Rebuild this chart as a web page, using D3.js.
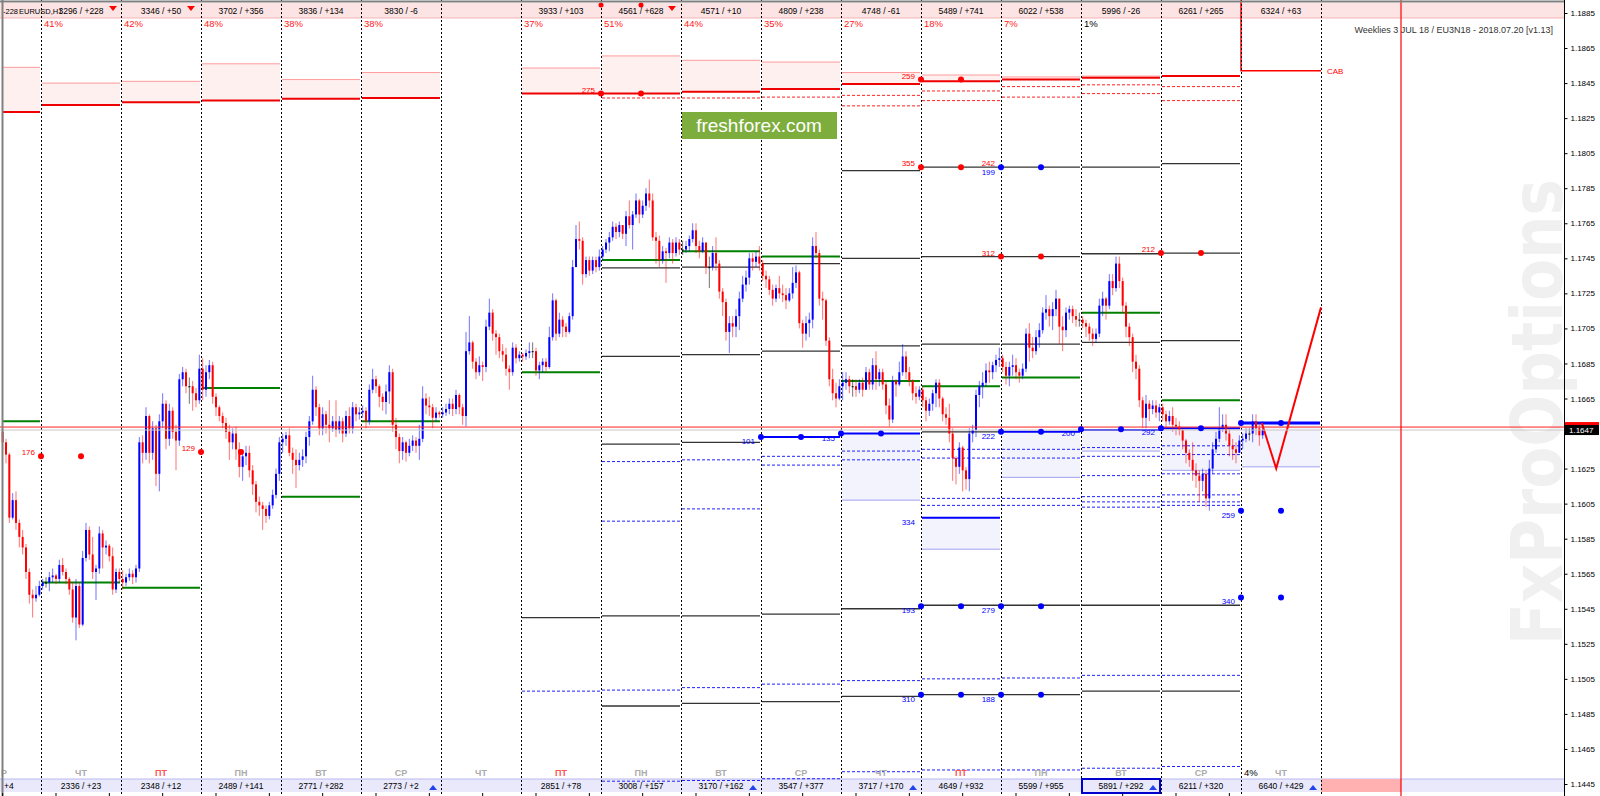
<!DOCTYPE html>
<head>
<meta charset="utf-8">
<script src="https://d3js.org/d3.v7.min.js"></script>
<style>
  body { margin:0; background:#fff; }
  svg { display:block; font-family:"Liberation Sans", Arial, sans-serif; }
</style>
</head>
<body>
<div id="chart"></div>
<script>
// prices are in 1/10000 above 1.0000 (1643 -> 1.1643)
// day -1 is the half day at the left edge, 0..15 are the full days
var dayNames   = ["ЧТ","ПТ","ПН","ВТ","СР","ЧТ","ПТ","ПН","ВТ","СР","ЧТ","ПТ","ПН","ВТ","СР","ЧТ"];
var topStats   = ["3296 / +228","3346 / +50","3702 / +356","3836 / +134","3830 / -6","","3933 / +103","4561 / +628","4571 / +10","4809 / +238","4748 / -61","5489 / +741","6022 / +538","5996 / -26","6261 / +265","6324 / +63"];
var topPct     = ["41%","42%","48%","38%","38%","","37%","51%","44%","35%","27%","18%","7%","1%","",""];
var bottomStats= ["2336 / +23","2348 / +12","2489 / +141","2771 / +282","2773 / +2","","2851 / +78","3008 / +157","3170 / +162","3547 / +377","3717 / +170","4649 / +932","5599 / +955","5891 / +292","6211 / +320","6640 / +429"];
var bottomPct  = ["","","","","","","","","","","","","","","","4%"];
var axisTicks  = d3.range(1445, 1886, 20);

var firstOpen = 1646;
var closes = [
  1640,1633,1597,1607,1594,1586,1580,1566,1553,1551,1553,1558,
  1560,1560,1563,1564,1562,1570,1566,1562,1556,1540,1558,1536,1574,1590,1576,1566,1568,1588,1580,1581,1575,1556,1566,1562,
  1560,1563,1565,1563,1568,1640,1634,1655,1634,1648,1622,1652,1662,1642,1658,1646,1641,1676,1680,1672,1672,1668,1664,1682,
  1670,1680,1684,1666,1660,1655,1651,1646,1640,1645,1636,1626,1632,1634,1624,1616,1606,1604,1602,1598,1604,1610,1622,1640,
  1642,1644,1634,1630,1627,1630,1632,1643,1652,1670,1660,1648,1656,1650,1648,1652,1647,1652,1645,1655,1648,1660,1656,1657,
  1658,1652,1670,1676,1672,1666,1663,1669,1680,1650,1643,1635,1640,1634,1638,1641,1638,1642,1665,1661,1660,1654,1657,1656,
  1657,1659,1662,1659,1667,1660,1655,1692,1697,1686,1680,1684,1683,1706,1714,1702,1700,1692,1690,1682,1680,1694,1688,1690,
  1689,1691,1692,1692,1681,1684,1686,1683,1700,1721,1702,1710,1706,1703,1712,1740,1756,1755,1736,1744,1738,1744,1740,1746,
  1750,1754,1757,1763,1760,1764,1759,1769,1764,1770,1778,1770,1775,1782,1778,1757,1755,1744,1749,1748,1754,1748,1754,1750,
  1750,1752,1756,1761,1752,1749,1754,1740,1740,1748,1742,1726,1720,1703,1708,1706,1712,1722,1730,1734,1745,1743,1746,1742,
  1735,1733,1727,1722,1728,1725,1724,1721,1725,1731,1737,1708,1702,1708,1710,1752,1748,1722,1721,1698,1676,1668,1665,1672,
  1674,1676,1672,1672,1670,1674,1670,1680,1673,1684,1676,1680,1673,1661,1653,1675,1673,1680,1689,1680,1675,1668,1666,1670,
  1664,1658,1662,1668,1674,1665,1656,1654,1645,1631,1626,1637,1624,1619,1645,1647,1667,1672,1674,1681,1680,1684,1687,1688,
  1683,1678,1683,1684,1680,1678,1682,1702,1694,1692,1700,1704,1714,1716,1712,1716,1722,1706,1704,1714,1716,1712,1710,1710,
  1708,1706,1702,1699,1702,1718,1722,1718,1732,1728,1742,1732,1718,1706,1700,1686,1682,1664,1654,1662,1659,1661,1657,1660,
  1656,1652,1655,1650,1649,1647,1641,1634,1630,1624,1621,1618,1622,1608,1625,1636,1642,1648,1650,1645,1638,1636,1634,1641,
  1642,1645,1645,1652,1648,1644,1647
];
var highs = [
  1648,1642,1634,1611,1612,1596,1590,1582,1568,1556,1558,1561,
  1562,1563,1566,1568,1565,1573,1574,1568,1563,1560,1562,1560,1578,1594,1592,1586,1570,1592,1590,1584,1582,1580,1568,1568,
  1567,1565,1568,1567,1570,1643,1644,1660,1656,1652,1650,1656,1668,1664,1662,1660,1650,1679,1683,1682,1677,1675,1671,1690,
  1688,1684,1687,1686,1668,1661,1657,1654,1650,1648,1649,1640,1636,1638,1638,1627,1618,1609,1606,1604,1606,1613,1625,1643,
  1645,1646,1648,1637,1636,1634,1636,1646,1655,1678,1672,1662,1660,1658,1664,1655,1664,1655,1654,1658,1660,1663,1662,1660,
  1661,1660,1673,1682,1678,1673,1668,1673,1684,1682,1654,1645,1643,1641,1642,1644,1643,1650,1672,1668,1666,1662,1660,1658,
  1660,1662,1665,1665,1670,1668,1662,1703,1712,1698,1688,1689,1686,1710,1722,1716,1704,1702,1696,1694,1684,1697,1696,1692,
  1691,1693,1697,1697,1694,1686,1688,1688,1706,1725,1722,1714,1712,1708,1714,1744,1764,1766,1757,1746,1746,1746,1746,1750,
  1752,1756,1760,1766,1765,1766,1764,1772,1778,1772,1782,1779,1778,1785,1790,1782,1760,1758,1752,1751,1757,1756,1757,1756,
  1755,1755,1758,1765,1765,1755,1757,1754,1746,1752,1757,1744,1728,1722,1712,1712,1716,1726,1735,1738,1748,1748,1749,1752,
  1744,1738,1735,1730,1730,1735,1730,1728,1728,1740,1741,1738,1710,1712,1714,1757,1760,1750,1726,1722,1700,1682,1674,1676,
  1680,1680,1678,1676,1676,1676,1677,1683,1682,1688,1692,1682,1682,1675,1665,1678,1676,1686,1696,1692,1683,1676,1672,1672,
  1672,1666,1665,1670,1676,1676,1666,1660,1662,1648,1632,1640,1638,1626,1648,1650,1670,1675,1680,1685,1686,1686,1690,1694,
  1690,1686,1686,1690,1688,1682,1685,1705,1708,1700,1704,1708,1717,1724,1718,1720,1727,1722,1712,1717,1718,1718,1716,1714,
  1712,1710,1708,1705,1705,1722,1726,1723,1736,1736,1746,1746,1734,1720,1708,1702,1690,1684,1666,1667,1664,1664,1664,1662,
  1662,1658,1658,1660,1654,1652,1648,1642,1636,1640,1628,1624,1625,1624,1630,1640,1646,1660,1656,1656,1648,1642,1640,1644,
  1645,1648,1648,1656,1656,1650,1652
];
var lows = [
  1636,1628,1594,1596,1590,1580,1576,1562,1548,1540,1549,1552,
  1556,1557,1555,1560,1559,1560,1564,1559,1553,1537,1527,1534,1535,1572,1573,1562,1550,1565,1568,1576,1572,1553,1554,1560,
  1556,1558,1561,1559,1560,1566,1628,1630,1628,1630,1615,1612,1648,1636,1638,1642,1624,1638,1672,1668,1662,1658,1660,1662,
  1664,1666,1676,1662,1655,1652,1648,1642,1630,1636,1630,1620,1618,1627,1620,1610,1600,1598,1590,1594,1596,1602,1608,1618,
  1634,1638,1632,1622,1614,1624,1626,1628,1638,1650,1655,1644,1644,1645,1640,1646,1643,1645,1640,1643,1645,1645,1652,1653,
  1654,1648,1650,1668,1668,1660,1658,1656,1662,1646,1636,1628,1630,1629,1632,1635,1634,1630,1640,1656,1655,1648,1652,1654,
  1654,1655,1656,1655,1656,1656,1650,1649,1690,1682,1676,1678,1675,1680,1704,1698,1690,1688,1686,1678,1670,1678,1685,1686,
  1686,1687,1688,1688,1678,1676,1680,1680,1682,1698,1698,1700,1700,1700,1702,1710,1740,1750,1730,1734,1735,1736,1737,1738,
  1744,1748,1749,1755,1756,1757,1756,1752,1762,1750,1768,1765,1768,1772,1774,1755,1742,1740,1742,1731,1745,1742,1746,1747,
  1747,1748,1749,1754,1748,1745,1748,1736,1728,1738,1738,1722,1712,1698,1691,1700,1700,1704,1720,1726,1730,1738,1740,1738,
  1732,1728,1724,1718,1720,1722,1720,1716,1720,1722,1728,1705,1694,1698,1700,1705,1745,1718,1710,1695,1672,1664,1660,1664,
  1664,1670,1668,1666,1666,1668,1666,1670,1670,1670,1670,1672,1670,1656,1649,1651,1666,1672,1678,1676,1672,1664,1662,1664,
  1660,1652,1655,1658,1660,1660,1652,1650,1640,1618,1616,1622,1612,1613,1612,1640,1643,1660,1665,1672,1674,1676,1680,1683,
  1680,1673,1672,1678,1676,1674,1676,1680,1686,1688,1690,1694,1702,1710,1706,1704,1712,1696,1692,1700,1710,1708,1706,1706,
  1705,1700,1698,1695,1697,1700,1712,1710,1716,1724,1726,1728,1714,1700,1695,1680,1676,1660,1648,1648,1652,1656,1654,1652,
  1652,1648,1650,1646,1644,1644,1636,1628,1626,1618,1614,1606,1612,1603,1601,1622,1634,1640,1646,1641,1632,1630,1628,1634,
  1636,1640,1641,1640,1644,1638,1642
];
var askPrice = 1648.7, bidPrice = 1647;

// levels: [day, price]
var greenLevels = [[-1,1652],[0,1560],[1,1557],[2,1671],[3,1609],[4,1652],[6,1680],[7,1744],[8,1749],[9,1746],[10,1675],[11,1672],[12,1677],[13,1714],[14,1664],[15,1651]];
var blackLevels = [[6,1540],
  [7,1739.5],[7,1689],[7,1639],[7,1541],[7,1489.5],
  [8,1740],[8,1690],[8,1640],[8,1541],[8,1491],
  [9,1742],[9,1692],[9,1542],[9,1492],
  [10,1795],[10,1745],[10,1695],[10,1545],[10,1495],
  [11,1797],[11,1746],[11,1696],[11,1646],[11,1547],[11,1496],
  [12,1797],[12,1746],[12,1696],[12,1547],[12,1496],
  [13,1797],[13,1747.6],[13,1697],[13,1547],[13,1498],
  [14,1799],[14,1748],[14,1698],[14,1547],[14,1498]];
// put walls: [day, line, bottom of shaded band]
var blueZones = [[9,1643,1643],[10,1645,1607],[11,1597,1579],[12,1646,1620],[13,1647,1635],[14,1648,1624],[15,1651,1626]];
var blueDashed = [[7,1629],[7,1595],[8,1630],[8,1602],[9,1632],[9,1627],[10,1635],[10,1630],
  [11,1636],[11,1631],[11,1608],[11,1604],[12,1636],[12,1631],[12,1608],[12,1604],
  [13,1637],[13,1632],[13,1621],[13,1609],[13,1606],[13,1603],
  [14,1638],[14,1633],[14,1622],[14,1610],[14,1606],[14,1604],
  [6,1498],[7,1498.6],[8,1500],[9,1502],[10,1504],[11,1505],[12,1505.5],[13,1507],[14,1507],
  [7,1446.6],[8,1447],[9,1448],[10,1452],[11,1453],[12,1453],[13,1454],[14,1455]];
// call walls: [day, bold line, thin upper line]
var redZones = [[-1,1828.5,1854],[0,1832.5,1845],[1,1834,1846],[2,1835,1856],[3,1836,1847],[4,1836.5,1851],
  [6,1839,1853.6],[7,1839,1860.5],[8,1840,1858],[9,1841.6,1857],[10,1844.5,1851],[11,1846,1849.6],
  [12,1847,1848.5],[13,1848,1849],[14,1849,1849]];
var redDashed = [[7,1836.5],[8,1836.5],[9,1837],[10,1838],[10,1832],[11,1840.5],[11,1835],[12,1843],[12,1837],[13,1844],[13,1839],[14,1843],[14,1835]];
var cabLevel = [15,1852];
// marked strikes: [day, price, label, colour of label, colour of dots]
var marks = [[0,1632,"176","red","red"],[2,1634.5,"129","red","red"],[7,1839,"275","red","red"],
  [11,1847,"259","red","red"],[11,1797,"355","red","red"],[12,1797,"242","red","blue"],
  [12,1746,"312","red","red"],[14,1748,"212","red","red"],
  [9,1643,"101","blue","blue"],[10,1645,"135","blue","blue"],[12,1646,"222","blue","blue"],
  [13,1647.4,"200","blue","blue"],[14,1648,"292","blue","blue"],[11,1597,"334","blue","none"],
  [11,1546.5,"193","blue","blue"],[12,1546.5,"279","blue","blue"],[11,1496,"310","blue","blue"],
  [12,1496,"188","blue","blue"],[15,1601,"259","blue","blue"],[15,1551.5,"340","blue","blue"],[15,1651,"","blue","blue"]];
var extraBlueLabel = [12,1797,"199"];
var projection = [[15.26,1651],[15.44,1625],[16.0,1717]];
var upArrowDays = [4,8,10,13,15];

var width = 1600, height = 796;
var axisX = 1564;
var xDay = d3.scaleLinear().domain([0, 17]).range([41, 1401]);
var y = d3.scaleLinear().domain([1445, 1885]).range([784, 13]);
var fmt = function(v){ return (1 + v/10000).toFixed(4); };

var svg = d3.select("#chart").append("svg").attr("width", width).attr("height", height);

function segX1(d){ return Math.max(3, xDay(d) + 1); }
function segX2(d){ return xDay(d + 1) - 1; }

// watermark
svg.append("text")
  .attr("transform", "translate(1562," + 412 + ") rotate(-90)")
  .attr("text-anchor", "middle")
  .style("font-family", "'DejaVu Sans', sans-serif")
  .style("font-weight", "bold").style("font-size", "72px")
  .attr("textLength", 466).attr("lengthAdjust", "spacingAndGlyphs")
  .attr("fill", "#f0f0f0").text("FxProOptions");

// strips
svg.append("rect").attr("x", 0).attr("y", 3).attr("width", axisX).attr("height", 15).attr("fill", "#fde4e4");
svg.append("line").attr("x1", 0).attr("x2", axisX).attr("y1", 18).attr("y2", 18).attr("stroke", "#f5b5b5");
svg.append("rect").attr("x", 0).attr("y", 779).attr("width", axisX).attr("height", 13).attr("fill", "#e9e9fb");
svg.append("line").attr("x1", 0).attr("x2", axisX).attr("y1", 779).attr("y2", 779).attr("stroke", "#b9b9f2");
svg.append("rect").attr("x", xDay(16)).attr("y", 779).attr("width", 80).attr("height", 13).attr("fill", "#ffb0b0");

// red zones
var gRed = svg.append("g");
redZones.forEach(function(r){
  gRed.append("rect").attr("x", segX1(r[0])).attr("width", segX2(r[0]) - segX1(r[0]))
    .attr("y", y(r[2])).attr("height", Math.max(0, y(r[1]) - y(r[2]))).attr("fill", "#fff0f0");
  gRed.append("line").attr("x1", segX1(r[0])).attr("x2", segX2(r[0])).attr("y1", y(r[2])).attr("y2", y(r[2]))
    .attr("stroke", "#ff9a9a").attr("stroke-width", 1);
  gRed.append("line").attr("x1", segX1(r[0])).attr("x2", segX2(r[0])).attr("y1", y(r[1])).attr("y2", y(r[1]))
    .attr("stroke", "#ee0000").attr("stroke-width", 2);
});
redDashed.forEach(function(r){
  gRed.append("line").attr("x1", segX1(r[0])).attr("x2", segX2(r[0])).attr("y1", y(r[1])).attr("y2", y(r[1]))
    .attr("stroke", "#ff2020").attr("stroke-dasharray", "3,2");
});

// blue zones
var gBlue = svg.append("g");
blueZones.forEach(function(b){
  if (b[2] < b[1]) {
    gBlue.append("rect").attr("x", segX1(b[0])).attr("width", segX2(b[0]) - segX1(b[0]))
      .attr("y", y(b[1])).attr("height", y(b[2]) - y(b[1])).attr("fill", "#f3f3fe");
    gBlue.append("line").attr("x1", segX1(b[0])).attr("x2", segX2(b[0])).attr("y1", y(b[2])).attr("y2", y(b[2]))
      .attr("stroke", "#a0a0f4");
  }
});
blueDashed.forEach(function(b){
  gBlue.append("line").attr("x1", segX1(b[0])).attr("x2", segX2(b[0])).attr("y1", y(b[1])).attr("y2", y(b[1]))
    .attr("stroke", "#2020ff").attr("stroke-dasharray", "3,2");
});

// black and green levels
blackLevels.forEach(function(b){
  svg.append("line").attr("x1", segX1(b[0])).attr("x2", segX2(b[0])).attr("y1", y(b[1])).attr("y2", y(b[1]))
    .attr("stroke", "#333").attr("stroke-width", 1.3);
});
greenLevels.forEach(function(gl){
  svg.append("line").attr("x1", segX1(gl[0])).attr("x2", segX2(gl[0])).attr("y1", y(gl[1])).attr("y2", y(gl[1]))
    .attr("stroke", "#008000").attr("stroke-width", 2);
});
blueZones.forEach(function(b){
  svg.append("line").attr("x1", segX1(b[0])).attr("x2", segX2(b[0])).attr("y1", y(b[1])).attr("y2", y(b[1]))
    .attr("stroke", "#0000ff").attr("stroke-width", b[0] == 15 ? 3 : 2);
});

// cab line
svg.append("path")
  .attr("d", "M" + xDay(cabLevel[0]) + ",0 V" + y(cabLevel[1]) + " H" + xDay(cabLevel[0] + 1))
  .attr("fill", "none").attr("stroke", "#ff0000").attr("stroke-width", 1.5);
svg.append("text").attr("x", xDay(cabLevel[0] + 1) + 6).attr("y", y(cabLevel[1]) + 3)
  .attr("fill", "#ff0000").style("font-size", "8px").text("CAB");

// day separators
svg.append("g").selectAll("line").data(d3.range(0, 17)).enter().append("line")
  .attr("x1", function(d){ return xDay(d) + 0.5; }).attr("x2", function(d){ return xDay(d) + 0.5; })
  .attr("y1", 0).attr("y2", height)
  .attr("stroke", "#000").attr("stroke-dasharray", "2,2");

// candles
var candles = [];
var prev = firstOpen;
closes.forEach(function(c, i){
  candles.push({ g: i, o: prev, c: c, h: Math.max(highs[i], prev, c), l: Math.min(lows[i], prev, c) });
  prev = c;
});
function cx(g){ return xDay((g - 12 + 0.5) / 24); }
function ccol(d){ return d.c > d.o ? "#0000ff" : (d.c < d.o ? "#ff0000" : "#000"); }
var gc = svg.append("g").selectAll("g").data(candles).enter().append("g");
gc.append("line")
  .attr("x1", function(d){ return cx(d.g); }).attr("x2", function(d){ return cx(d.g); })
  .attr("y1", function(d){ return y(d.h); }).attr("y2", function(d){ return y(d.l); })
  .attr("stroke", ccol).attr("stroke-opacity", 0.55).attr("stroke-width", 1);
gc.append("rect")
  .attr("x", function(d){ return cx(d.g) - 1; }).attr("width", 2)
  .attr("y", function(d){ return y(Math.max(d.o, d.c)); })
  .attr("height", function(d){ return Math.max(1, Math.abs(y(d.o) - y(d.c))); })
  .attr("fill", ccol);

// projection
svg.append("path")
  .attr("d", d3.line().x(function(p){ return xDay(p[0]); }).y(function(p){ return y(p[1]); })(projection))
  .attr("fill", "none").attr("stroke", "#ff0000").attr("stroke-width", 2);

// price lines
svg.append("line").attr("x1", 0).attr("x2", axisX).attr("y1", y(bidPrice)).attr("y2", y(bidPrice)).attr("stroke", "#c8c8c8");
svg.append("line").attr("x1", 0).attr("x2", axisX).attr("y1", y(askPrice)).attr("y2", y(askPrice)).attr("stroke", "#ff2020").attr("stroke-width", 1);

// marks
marks.forEach(function(m){
  var x0 = xDay(m[0]), yy = y(m[1]);
  if (m[4] != "none") {
    [x0, x0 + 40].forEach(function(xx){
      svg.append("circle").attr("cx", xx).attr("cy", yy).attr("r", 3).attr("fill", m[4] == "red" ? "#ff0000" : "#0000ff");
    });
  }
  if (m[2]) {
    svg.append("text").attr("x", x0 - 6).attr("y", m[3] == "red" ? yy - 1 : yy + 7)
      .attr("text-anchor", "end").attr("fill", m[3] == "red" ? "#ff0000" : "#0000ff")
      .style("font-size", "8px").text(m[2]);
  }
});
svg.append("text").attr("x", xDay(extraBlueLabel[0]) - 6).attr("y", y(extraBlueLabel[1]) + 8)
  .attr("text-anchor", "end").attr("fill", "#0000ff").style("font-size", "8px").text(extraBlueLabel[2]);

// freshforex badge
svg.append("rect").attr("x", 682).attr("y", 112).attr("width", 155).attr("height", 27).attr("fill", "#7dad3d");
svg.append("text").attr("x", 759).attr("y", 132).attr("text-anchor", "middle").attr("fill", "#fff")
  .style("font-size", "19px").text("freshforex.com");

// top strip texts
svg.append("g").selectAll("text").data(topStats).enter().append("text")
  .attr("x", function(d, i){ return xDay(i + 0.5); }).attr("y", 14).attr("text-anchor", "middle")
  .style("font-size", "8.5px").attr("fill", "#000").text(function(d){ return d; });
svg.append("g").selectAll("text").data(topPct).enter().append("text")
  .attr("x", function(d, i){ return xDay(i) + 3; }).attr("y", 27)
  .style("font-size", "9.5px").attr("fill", function(d){ return d == "1%" ? "#000" : "#ff2020"; })
  .text(function(d){ return d; });
svg.append("text").attr("x", 3).attr("y", 14).style("font-size", "7.5px").text("-228");
svg.append("text").attr("x", 19).attr("y", 14).style("font-size", "7.5px").text("EURUSD,H1");
[[113,9],[191,9],[672,9]].forEach(function(p){
  svg.append("path").attr("d", "M" + (p[0]-4) + "," + (p[1]-3) + "h8l-4,5z").attr("fill", "#ff0000");
});
[601, 641].forEach(function(xx){
  svg.append("circle").attr("cx", xx).attr("cy", 5).attr("r", 2.5).attr("fill", "#ff0000");
});

// bottom strip texts
svg.append("g").selectAll("text").data(dayNames).enter().append("text")
  .attr("x", function(d, i){ return xDay(i + 0.5); }).attr("y", 776).attr("text-anchor", "middle")
  .style("font-size", "9px").style("font-weight", "bold")
  .attr("fill", function(d){ return d == "ПТ" ? "#ff5555" : "#ababab"; }).text(function(d){ return d; });
svg.append("text").attr("x", 1).attr("y", 776).style("font-size", "9px").style("font-weight", "bold").attr("fill", "#ababab").text("Р");
svg.append("g").selectAll("text").data(bottomStats).enter().append("text")
  .attr("x", function(d, i){ return xDay(i + 0.5); }).attr("y", 789).attr("text-anchor", "middle")
  .style("font-size", "8.5px").attr("fill", "#000").text(function(d){ return d; });
svg.append("text").attr("x", 4).attr("y", 789).style("font-size", "8.5px").text("+4");
svg.append("g").selectAll("text").data(bottomPct).enter().append("text")
  .attr("x", function(d, i){ return xDay(i) + 3; }).attr("y", 776)
  .style("font-size", "9.5px").attr("fill", "#000").text(function(d){ return d; });
svg.append("rect").attr("x", xDay(13) + 1).attr("y", 779).attr("width", 78).attr("height", 14)
  .attr("fill", "none").attr("stroke", "#0000cc").attr("stroke-width", 2);
upArrowDays.forEach(function(d){
  var xx = xDay(d + 1) - 8;
  svg.append("path").attr("d", "M" + (xx - 4) + ",790 h8 l-4,-5z").attr("fill", "#2244ee");
});

// title text
svg.append("text").attr("x", 1553).attr("y", 33).attr("text-anchor", "end")
  .style("font-size", "9px").attr("fill", "#333").text("Weeklies 3 JUL 18 / EU3N18 - 2018.07.20 [v1.13]");

// expiry line
svg.append("line").attr("x1", xDay(17)).attr("x2", xDay(17)).attr("y1", 0).attr("y2", height)
  .attr("stroke", "#ff0000").attr("stroke-width", 1.2);

// frame
svg.append("line").attr("x1", 0).attr("x2", axisX).attr("y1", 1.5).attr("y2", 1.5).attr("stroke", "#808080").attr("stroke-width", 2);
svg.append("line").attr("x1", 2.5).attr("x2", 2.5).attr("y1", 0).attr("y2", height).attr("stroke", "#808080").attr("stroke-width", 2);
svg.append("line").attr("x1", axisX + 0.5).attr("x2", axisX + 0.5).attr("y1", 0).attr("y2", height).attr("stroke", "#000");

// time ticks at bottom
svg.append("g").selectAll("line").data(d3.range(0, 380, 16)).enter().append("line")
  .attr("x1", function(d){ return cx(d); }).attr("x2", function(d){ return cx(d); })
  .attr("y1", 793).attr("y2", 796).attr("stroke", "#000");

// price axis (the label under the price tag is hidden, as in the terminal)
var axis = svg.append("g").attr("transform", "translate(" + (axisX + 0.5) + ",0)")
  .call(d3.axisRight(y).tickValues(axisTicks).tickSize(3)
    .tickFormat(function(v){ return Math.abs(v - bidPrice) < 5 ? "" : fmt(v); }));
axis.select(".domain").remove();
axis.selectAll("text").style("font-size", "8px").style("font-family", "'Liberation Sans', Arial, sans-serif").attr("x", 6);

// current price tags
svg.append("rect").attr("x", axisX + 1).attr("y", y(askPrice) - 5).attr("width", 34).attr("height", 6).attr("fill", "#ff0000");
svg.append("rect").attr("x", axisX + 1).attr("y", y(bidPrice) - 5).attr("width", 34).attr("height", 10).attr("fill", "#000");
svg.append("text").attr("x", axisX + 5).attr("y", y(bidPrice) + 3).attr("fill", "#fff")
  .style("font-size", "8px").text(fmt(bidPrice));
</script>
</body>
